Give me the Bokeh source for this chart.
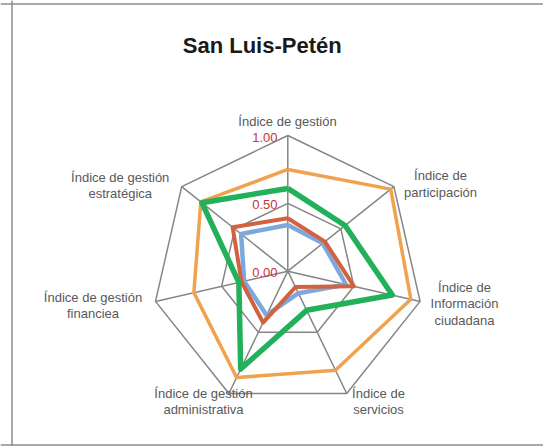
import numpy as np
from bokeh.plotting import figure
from bokeh.models import Range1d, Span
from bokeh.core.properties import value
from bokeh.embed import file_html
from bokeh.resources import INLINE

# ---------------- data ----------------
axis_labels = [
    ["Índice de gestión"],
    ["Índice de", "participación"],
    ["Índice de", "Información", "ciudadana"],
    ["Índice de", "servicios"],
    ["Índice de gestión", "administrativa"],
    ["Índice de gestión", "financiea"],
    ["Índice de gestión", "estratégica"],
]
serie_azul = [0.34, 0.33, 0.44, 0.18, 0.36, 0.33, 0.44]
serie_roja = [0.39, 0.35, 0.50, 0.13, 0.42, 0.35, 0.52]
serie_naranja = [0.75, 0.97, 0.93, 0.81, 0.87, 0.71, 0.82]
serie_verde = [0.61, 0.54, 0.79, 0.32, 0.80, 0.37, 0.81]
tick_values = [0.0, 0.5, 1.0]
tick_labels = ["0.00", "0.50", "1.00"]
title_text = "San Luis-Petén"

# ---------------- layout ----------------
W, H = 543, 446
OX, OY = 0, 0                  # observed page offset of figure
CX, CY = 287.3, 270.7          # screen centre of radar
S = 135.7                      # pixels per unit radius

def dx(sx):
    return (sx - CX) / S

def dy(sy):
    return (CY - sy) / S

n = len(axis_labels)
angles = np.pi / 2 - 2 * np.pi * np.arange(n) / n

p = figure(width=W, height=H, output_backend="svg", toolbar_location=None,
           x_axis_type=None, y_axis_type=None, min_border=0,
           x_range=Range1d(dx(OX), dx(OX + W)), y_range=Range1d(dy(OY + H), dy(OY)))
p.grid.visible = False
p.outline_line_color = None
p.background_fill_color = "white"
p.border_fill_color = "white"

# chart border (left, top, bottom)
p.add_layout(Span(location=dx(11.5), dimension="height", line_color="#8c8c8c", line_width=1.5))
p.add_layout(Span(location=dy(3.5), dimension="width", line_color="#8c8c8c", line_width=1.5))
p.add_layout(Span(location=dy(444.5), dimension="width", line_color="#8c8c8c", line_width=1.5))

grid_col = "#858585"
# rings
for t in tick_values[1:]:
    xs = list(t * np.cos(angles)) + [t * np.cos(angles[0])]
    ys = list(t * np.sin(angles)) + [t * np.sin(angles[0])]
    p.line(xs, ys, line_color=grid_col, line_width=1.5)
# spokes
p.segment(x0=[0] * n, y0=[0] * n, x1=list(np.cos(angles)), y1=list(np.sin(angles)),
          line_color=grid_col, line_width=1.5)

def poly(vals):
    v = np.array(vals + [vals[0]])
    a = np.append(angles, angles[0])
    return list(v * np.cos(a)), list(v * np.sin(a))

series = [
    (serie_azul, "#7ea8dc", 4.5),
    (serie_roja, "#d2613f", 4.0),
    (serie_naranja, "#f0a24e", 3.5),
    (serie_verde, "#22b15a", 5.5),
]
for vals, col, lw in series:
    xs, ys = poly(vals)
    p.line(xs, ys, line_color=col, line_width=lw, line_join="round")

# tick labels
p.text(x=[dx(277)] * len(tick_values), y=[t + dy(CY + 1.5) for t in tick_values],
       text=tick_labels, text_align="right", text_baseline="middle",
       text_font=value("Liberation Sans"), text_font_size="13px", text_color="#c8333c")

# axis labels (centre of each line, screen px)
label_pos = [
    (287, [121]),
    (440, [175, 191.5]),
    (464, [286.7, 303.3, 320]),
    (378, [392.7, 408.5]),
    (203, [392.7, 408.5]),
    (92.5, [296.7, 313.3]),
    (119.7, [176.7, 192.7]),
]
lx, ly, lt = [], [], []
for lines, (sx, sys_) in zip(axis_labels, label_pos):
    for line, sy in zip(lines, sys_):
        lx.append(dx(sx)); ly.append(dy(sy)); lt.append(line)
p.text(x=lx, y=ly, text=lt, text_align="center", text_baseline="middle",
       text_font=value("Liberation Sans"), text_font_size="13px", text_color="#595959")

# title
p.text(x=[dx(261.7)], y=[dy(45)], text=[title_text], text_align="center", text_baseline="middle",
       text_font=value("Liberation Sans"), text_font_size="22px", text_font_style="bold",
       text_color="#1a1a1a")

open("out.html", "w").write(file_html(p, INLINE))
